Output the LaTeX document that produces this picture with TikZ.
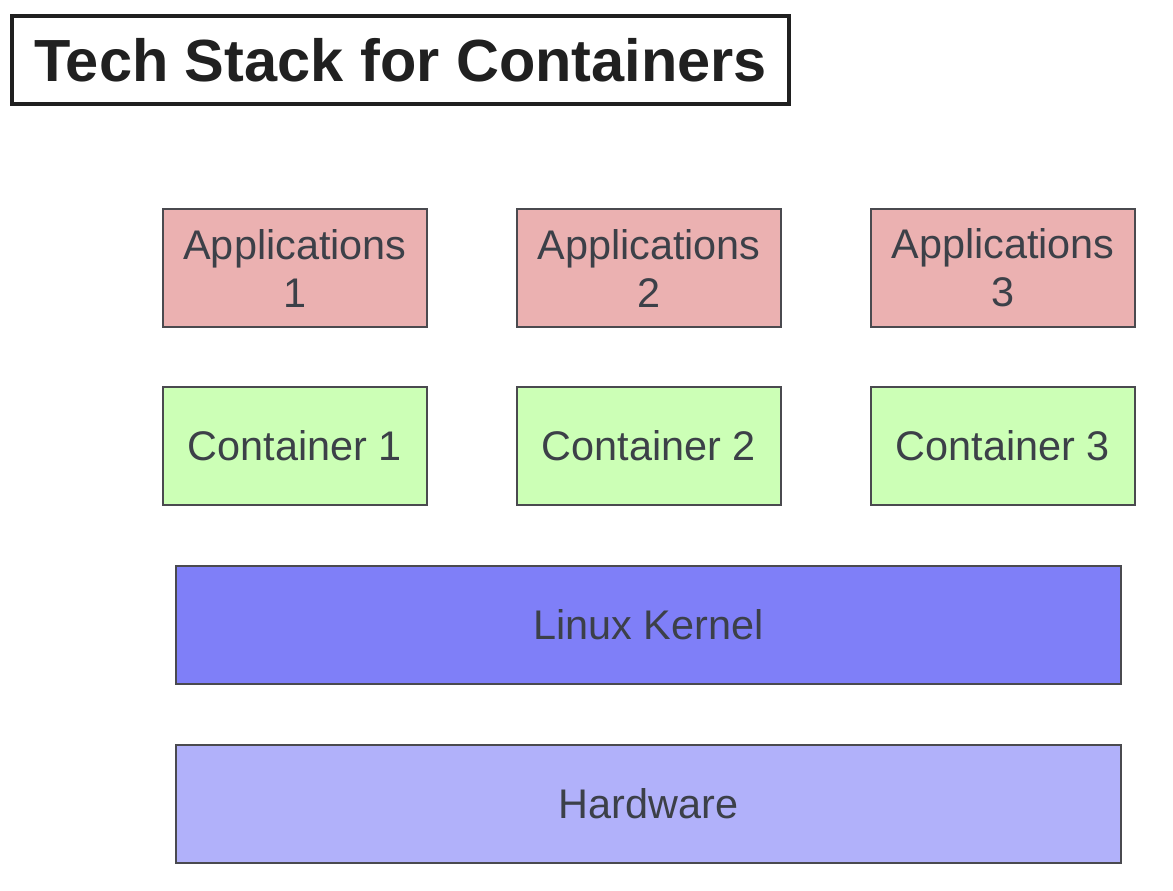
\documentclass[tikz,border=0pt]{standalone}
\usepackage{fontspec}
\setmainfont{Liberation Sans}
\definecolor{appfill}{HTML}{EBB1B1}
\definecolor{contfill}{HTML}{CCFFB6}
\definecolor{kernfill}{HTML}{7F7FF8}
\definecolor{hwfill}{HTML}{B1B1FA}
\definecolor{edge}{HTML}{4A4A4F}
\definecolor{txt}{HTML}{3C4048}
\definecolor{titletxt}{HTML}{202020}
\tikzset{
  layer/.style={draw=edge, line width=1.5pt, text=txt, align=center, inner sep=0pt,
    font=\fontsize{41.4}{48}\selectfont},
  smallbox/.style={layer, minimum width=264pt, minimum height=118pt},
  widebox/.style={layer, minimum width=945pt, minimum height=118pt},
  titlebox/.style={draw=titletxt, line width=4pt, text=titletxt, inner sep=0pt,
    minimum width=777pt, minimum height=88pt, font=\fontsize{59.5}{70}\selectfont\bfseries}
}
\begin{document}
\begin{tikzpicture}[x=1pt,y=-1pt]
\useasboundingbox (0,0) rectangle (1173,891);
\node[titlebox] (title) at (400.5,60) {Tech Stack for Containers};
\node[smallbox, fill=appfill] (app1) at (295,268) {Applications\\1};
\node[smallbox, fill=appfill] (app2) at (649,268) {Applications\\2};
\node[smallbox, fill=appfill] (app3) at (1003,268) {Applications\\3};
\node[smallbox, fill=contfill] (c1) at (295,446) {Container 1};
\node[smallbox, fill=contfill] (c2) at (649,446) {Container 2};
\node[smallbox, fill=contfill] (c3) at (1003,446) {Container 3};
\node[widebox, fill=kernfill] (kernel) at (648.5,625) {Linux Kernel};
\node[widebox, fill=hwfill] (hw) at (648.5,804) {Hardware};
\end{tikzpicture}
\end{document}
